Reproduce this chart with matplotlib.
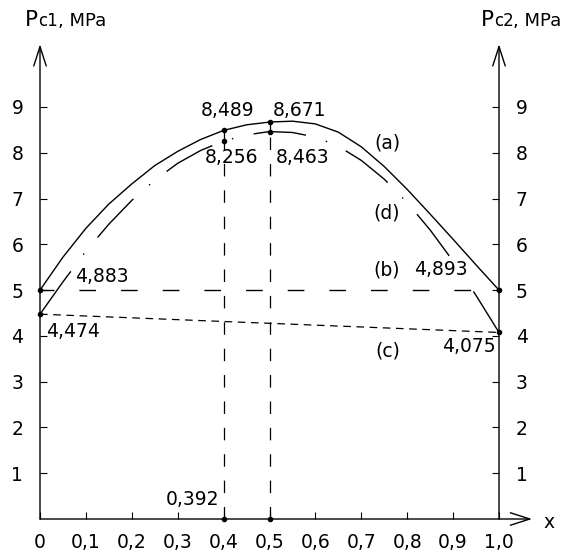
# -*- coding: utf-8 -*-
"""
Pc1 / Pc2 pressure curves along x (a), (b), (c), (d)
"""

import numpy as np
import matplotlib
matplotlib.use('Agg')
import matplotlib.pyplot as plt
from matplotlib.offsetbox import TextArea, HPacker, AnnotationBbox

plt.rcParams['font.family'] = 'DejaVu Sans'
plt.rcParams['lines.scale_dashes'] = False

### data
x_pts = [0.0, 0.05, 0.1, 0.15, 0.2, 0.25, 0.3, 0.35, 0.4, 0.45, 0.5,
         0.55, 0.6, 0.65, 0.7, 0.75, 0.8, 0.85, 0.9, 0.95, 1.0]
pc_a  = [5.00, 5.72, 6.35, 6.88, 7.32, 7.72, 8.03, 8.29, 8.489, 8.61, 8.671,
         8.69, 8.63, 8.45, 8.13, 7.70, 7.20, 6.66, 6.11, 5.55, 5.00]
pc_d  = [4.474, 5.18, 5.85, 6.44, 6.96, 7.40, 7.77, 8.05, 8.256, 8.39, 8.463,
         8.443, 8.343, 8.143, 7.833, 7.423, 6.913, 6.313, 5.633, 4.883, 4.075]
x_ends = [0.0, 1.0]
pc_b   = [5.0, 5.0]
pc_c   = [4.474, 4.075]

x_mark = [0.4, 0.5]
a_mark = [8.489, 8.671]
d_mark = [8.256, 8.463]

xticks  = [0.0, 0.1, 0.2, 0.3, 0.4, 0.5, 0.6, 0.7, 0.8, 0.9, 1.0]
xlabels = ['0', '0,1', '0,2', '0,3', '0,4', '0,5', '0,6', '0,7', '0,8', '0,9', '1,0']
yticks  = [1, 2, 3, 4, 5, 6, 7, 8, 9]

fs = 13.5
lw = 1.0

### plot
fig = plt.figure(figsize=(5.72, 5.58), dpi=100)
ax  = fig.add_axes([40/572, 39/558, 459/572, 457.8/558])
ax.set_xlim(0, 1)
ax.set_ylim(0, 10)
for s in ax.spines.values():
    s.set_visible(False)

# axes with open arrow heads
arw = dict(arrowstyle='->,head_length=1.4,head_width=0.45', mutation_scale=10,
           lw=lw, color='k', shrinkA=0, shrinkB=0)
ax.annotate('', xy=(0, 10.37), xytext=(0, 0), arrowprops=arw, annotation_clip=False)
ax.annotate('', xy=(1, 10.37), xytext=(1, 0), arrowprops=arw, annotation_clip=False)
ax.annotate('', xy=(1.072, 0), xytext=(0, 0), arrowprops=arw, annotation_clip=False)

# curves
ax.plot(x_pts, pc_a, color='k', lw=lw, clip_on=False)
ax.plot(x_pts, pc_d, color='k', lw=lw, linestyle=(0, (38, 15, 1, 15)), clip_on=False)
ax.plot(x_ends, pc_b, color='k', lw=lw, linestyle=(2, (12, 18)), clip_on=False)
ax.plot(x_ends, pc_c, color='k', lw=lw*0.9, linestyle=(0, (5.5, 4)), clip_on=False)

# marker lines at x = 0.4 and 0.5
for xm, am, dm in zip(x_mark, a_mark, d_mark):
    ax.plot([xm, xm], [0, dm], color='k', lw=lw*0.9, linestyle=(0, (9, 10)))
    ax.plot([xm, xm], [dm, am], color='k', lw=lw*0.9)

# dots
ax.plot([0, 0, 1, 1] + x_mark * 3,
        [pc_a[0], pc_d[0], pc_a[-1], pc_d[-1]] + a_mark + d_mark + [0, 0],
        'o', color='k', ms=3, clip_on=False)

# ticks
ax.set_xticks(xticks)
ax.set_xticklabels(xlabels, fontsize=fs)
ax.set_yticks(yticks)
ax.set_yticklabels([str(v) for v in yticks], fontsize=fs)
ax.tick_params(axis='x', direction='in', length=5, width=0.8, pad=10)
ax.tick_params(axis='y', direction='in', length=5, width=0.8, pad=12,
               left=True, right=True, labelleft=True, labelright=True)

# value labels
ax.text(0.4085, 8.93, '8,489', fontsize=fs, ha='center', va='center')
ax.text(0.566, 8.93, '8,671', fontsize=fs, ha='center', va='center')
ax.text(0.417, 7.89, '8,256', fontsize=fs, ha='center', va='center')
ax.text(0.571, 7.89, '8,463', fontsize=fs, ha='center', va='center')
ax.text(0.134, 5.29, '4,883', fontsize=fs, ha='center', va='center')
ax.text(0.072, 4.09, '4,474', fontsize=fs, ha='center', va='center')
ax.text(0.874, 5.44, '4,893', fontsize=fs, ha='center', va='center')
ax.text(0.934, 3.76, '4,075', fontsize=fs, ha='center', va='center')
ax.text(0.39, 0.22, '0,392', fontsize=fs, ha='right', va='bottom')

ax.text(0.758, 8.21, '(a)', fontsize=fs, ha='center', va='center')
ax.text(0.756, 6.68, '(d)', fontsize=fs, ha='center', va='center')
ax.text(0.756, 5.44, '(b)', fontsize=fs, ha='center', va='center')
ax.text(0.758, 3.67, '(c)', fontsize=fs, ha='center', va='center')

ax.text(1.108, -0.07, 'x', fontsize=fs, ha='center', va='center', clip_on=False)

# axis titles  Pc1, MPa / Pc2, MPa
for xt, sub in [(-0.033, 'c1'), (0.96, 'c2')]:
    box = HPacker(children=[TextArea('P', textprops=dict(size=15.5)),
                            TextArea(sub, textprops=dict(size=12)),
                            TextArea(', MPa', textprops=dict(size=13))],
                  align='baseline', pad=0, sep=0)
    ab = AnnotationBbox(box, (xt, 10.68), xycoords='data', box_alignment=(0, 0),
                        frameon=False, annotation_clip=False)
    ax.add_artist(ab)

fig.savefig('out.png', dpi=100)
